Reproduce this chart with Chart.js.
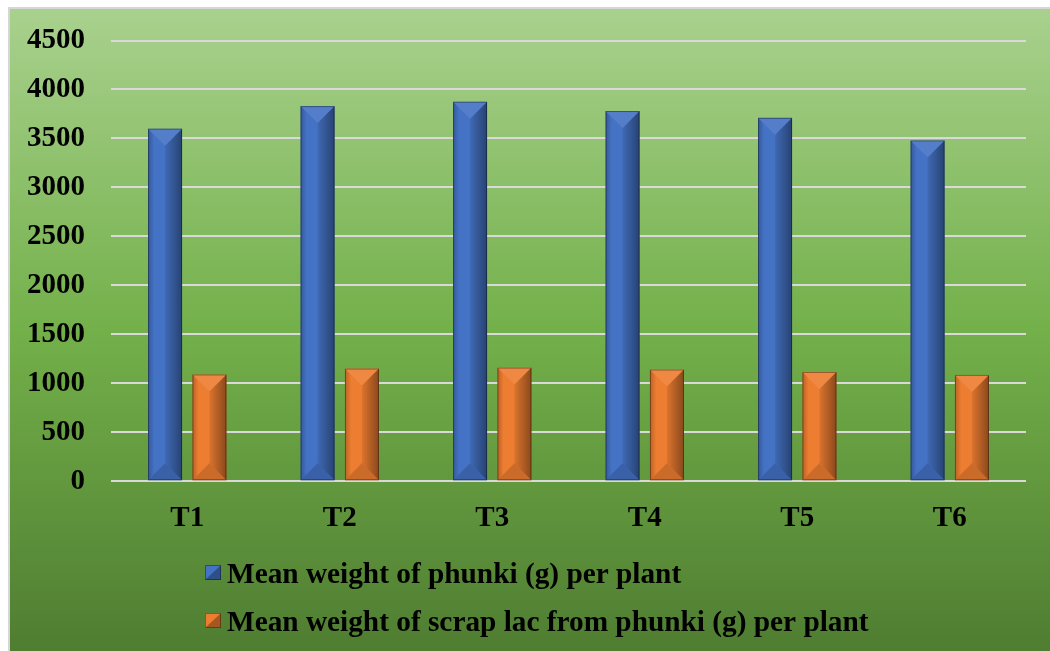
<!DOCTYPE html>
<html><head><meta charset="utf-8">
<script src="https://cdn.jsdelivr.net/npm/chart.js@4.4.1/dist/chart.umd.min.js"></script>
<style>html,body{margin:0;padding:0;background:#fff;overflow:hidden}
#wrap{position:absolute;left:0;top:0;width:1050px;height:651px}</style>
</head><body><div id="wrap"><canvas id="c" width="1050" height="651"></canvas></div>
<script>
const categories = ['T1','T2','T3','T4','T5','T6'];
const phunkiWeight = [3600, 3830, 3875, 3780, 3710, 3480];
const scrapLacWeight = [1090, 1150, 1160, 1140, 1115, 1085];
const seriesNames = ['Mean weight of phunki (g) per plant', 'Mean weight of scrap lac from phunki (g) per plant'];
const seriesColors = ['#4472c4', '#ed7d31'];
const yMin = 0, yMax = 4500, yStep = 500;

const FONT = "'Liberation Serif', 'Times New Roman', serif";

const bgPlugin = {
  id: 'bg',
  beforeDraw(chart) {
    const ctx = chart.ctx;
    ctx.save();
    ctx.fillStyle = '#ffffff';
    ctx.fillRect(0, 0, chart.width, chart.height);
    const g = ctx.createLinearGradient(0, 9, 0, chart.height);
    g.addColorStop(0, '#a9d18e');
    g.addColorStop(0.5, '#73b04a');
    g.addColorStop(1, '#4f7d31');
    ctx.fillStyle = g;
    ctx.fillRect(10, 9, chart.width - 10, chart.height - 9);
    ctx.strokeStyle = '#d6d6d6';
    ctx.lineWidth = 2;
    ctx.strokeRect(9, 8, chart.width + 5, chart.height + 5);
    ctx.restore();
  }
};

function bevel(ctx, l, r, t, b) {
  const w = r - l, cx = (l + r) / 2, d = Math.min(w / 2, (b - t) / 2);
  let g = ctx.createLinearGradient(cx, 0, r, 0);
  g.addColorStop(0, 'rgba(0,0,0,0.08)');
  g.addColorStop(1, 'rgba(0,0,0,0.42)');
  ctx.fillStyle = g;
  ctx.beginPath(); ctx.moveTo(cx, t + d); ctx.lineTo(r, t); ctx.lineTo(r, b); ctx.lineTo(cx, b - d); ctx.closePath(); ctx.fill();
  g = ctx.createLinearGradient(l, 0, l + w * 0.18, 0);
  g.addColorStop(0, 'rgba(0,0,0,0.22)');
  g.addColorStop(1, 'rgba(0,0,0,0)');
  ctx.fillStyle = g;
  ctx.beginPath(); ctx.moveTo(l, t); ctx.lineTo(cx, t + d); ctx.lineTo(cx, b - d); ctx.lineTo(l, b); ctx.closePath(); ctx.fill();
  ctx.fillStyle = 'rgba(255,255,255,0.09)';
  ctx.beginPath(); ctx.moveTo(l, t); ctx.lineTo(r, t); ctx.lineTo(cx, t + d); ctx.closePath(); ctx.fill();
  ctx.fillStyle = 'rgba(0,0,0,0.14)';
  ctx.beginPath(); ctx.moveTo(l, b); ctx.lineTo(r, b); ctx.lineTo(cx, b - d); ctx.closePath(); ctx.fill();
  ctx.strokeStyle = 'rgba(0,0,0,0.35)';
  ctx.lineWidth = 1;
  ctx.strokeRect(l + 0.5, t + 0.5, w - 1, b - t - 1);
}

const bevelPlugin = {
  id: 'bevel',
  afterDatasetsDraw(chart) {
    const ctx = chart.ctx;
    ctx.save();
    chart.data.datasets.forEach((ds, i) => {
      const meta = chart.getDatasetMeta(i);
      meta.data.forEach(el => {
        const p = el.getProps(['x', 'y', 'base', 'width'], true);
        bevel(ctx, p.x - p.width / 2, p.x + p.width / 2, Math.min(p.y, p.base), Math.max(p.y, p.base));
      });
    });
    ctx.restore();
  }
};

const legendPlugin = {
  id: 'customLegend',
  afterDraw(chart) {
    const ctx = chart.ctx;
    ctx.save();
    const rows = [573, 621];
    chart.data.datasets.forEach((ds, i) => {
      const y = rows[i];
      const bx = 205, by = y - 8, bw = 16, bh = 15;
      ctx.fillStyle = ds.backgroundColor;
      ctx.fillRect(bx, by, bw, bh);
      ctx.fillStyle = 'rgba(0,0,0,0.3)';
      ctx.beginPath(); ctx.moveTo(bx + bw, by); ctx.lineTo(bx + bw, by + bh); ctx.lineTo(bx, by + bh); ctx.closePath(); ctx.fill();
      ctx.strokeStyle = 'rgba(0,0,0,0.35)'; ctx.lineWidth = 1;
      ctx.strokeRect(bx + 0.5, by + 0.5, bw - 1, bh - 1);
      ctx.fillStyle = '#000';
      ctx.font = 'bold 29.3px ' + FONT;
      ctx.textBaseline = 'middle';
      ctx.textAlign = 'left';
      ctx.fillText(ds.label, 227, y + 2);
    });
    ctx.restore();
  }
};

new Chart(document.getElementById('c'), {
  type: 'bar',
  data: {
    labels: categories,
    datasets: [
      { label: seriesNames[0], data: phunkiWeight, backgroundColor: seriesColors[0], categoryPercentage: 0.582, barPercentage: 0.766 },
      { label: seriesNames[1], data: scrapLacWeight, backgroundColor: seriesColors[1], categoryPercentage: 0.582, barPercentage: 0.766 }
    ]
  },
  options: {
    responsive: false,
    animation: false,
    layout: { padding: { left: 1, right: 24, top: 21, bottom: 95 } },
    plugins: { legend: { display: false }, tooltip: { enabled: false } },
    scales: {
      x: {
        grid: { display: false, drawTicks: false },
        border: { display: false },
        ticks: { color: '#000', font: { family: FONT, size: 29, weight: 'bold' }, padding: 20 }
      },
      y: {
        min: yMin, max: yMax,
        grid: { color: '#d9d9d9', lineWidth: 2, drawTicks: false },
        border: { display: false },
        ticks: { stepSize: yStep, color: '#000', font: { family: FONT, size: 29, weight: 'bold', lineHeight: 1 }, padding: 26,
                 callback: v => String(v) }
      }
    }
  },
  plugins: [bgPlugin, bevelPlugin, legendPlugin]
});
</script></body></html>
